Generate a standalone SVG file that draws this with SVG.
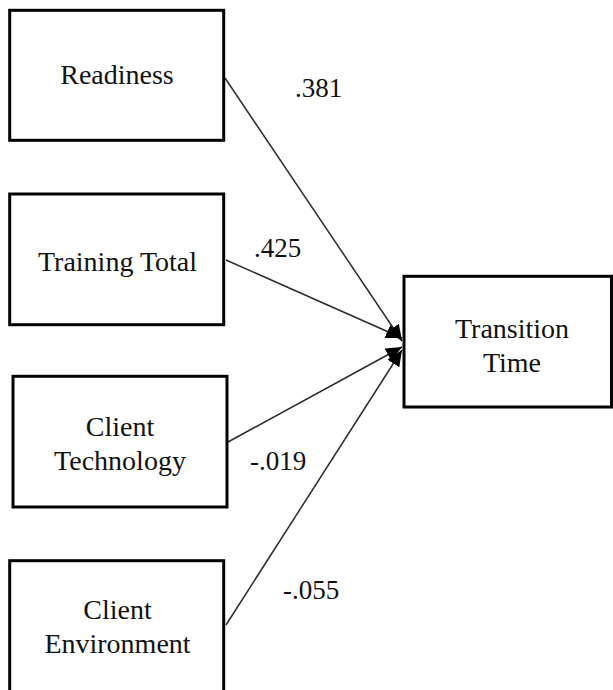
<svg xmlns="http://www.w3.org/2000/svg" width="613" height="690" viewBox="0 0 613 690">
  <style>
    .box { fill: #ffffff; stroke: #000000; stroke-width: 3; }
    .node-text { font-family: "Liberation Serif", "Times New Roman", serif; font-size: 28px; fill: #111111; text-anchor: middle; }
    .coef { font-family: "Liberation Serif", "Times New Roman", serif; font-size: 27px; fill: #111111; }
    .path { stroke: #2a2a2a; stroke-width: 1.5; fill: none; marker-end: url(#arrow); }
  </style>
  <defs>
    <marker id="arrow" markerUnits="userSpaceOnUse" markerWidth="16" markerHeight="14" refX="16" refY="7" orient="auto">
      <path d="M0,0 L16,7 L0,14 z" fill="#000000"/>
    </marker>
  </defs>
  <rect width="613" height="690" fill="#ffffff"/>

  <!-- predictor paths into the outcome -->
  <g id="connectors">
    <line class="path" x1="225" y1="78" x2="402" y2="341"/>
    <line class="path" x1="226" y1="260" x2="402" y2="338"/>
    <line class="path" x1="228" y1="442" x2="402" y2="347"/>
    <line class="path" x1="226" y1="625" x2="402" y2="350"/>
  </g>

  <!-- path coefficients -->
  <g id="coefficients">
    <text class="coef" x="295" y="97">.381</text>
    <text class="coef" x="254" y="257">.425</text>
    <text class="coef" x="250" y="470">-.019</text>
    <text class="coef" x="283" y="599">-.055</text>
  </g>

  <g id="readiness">
    <rect class="box" x="9.7" y="10.3" width="214" height="130"/>
    <text class="node-text" x="117" y="84">Readiness</text>
  </g>

  <g id="training-total">
    <rect class="box" x="9.7" y="194" width="214" height="130.7"/>
    <text class="node-text" x="117.5" y="270.5">Training Total</text>
  </g>

  <g id="client-technology">
    <rect class="box" x="13" y="376.3" width="214" height="130.7"/>
    <text class="node-text" x="120" y="436">Client</text>
    <text class="node-text" x="120" y="470">Technology</text>
  </g>

  <g id="client-environment">
    <rect class="box" x="9.7" y="560.7" width="214" height="131"/>
    <text class="node-text" x="117.5" y="619">Client</text>
    <text class="node-text" x="117.5" y="653">Environment</text>
  </g>

  <g id="transition-time">
    <rect class="box" x="404" y="276.3" width="207.5" height="130.7"/>
    <text class="node-text" x="512" y="337.5">Transition</text>
    <text class="node-text" x="512" y="372">Time</text>
  </g>
</svg>
